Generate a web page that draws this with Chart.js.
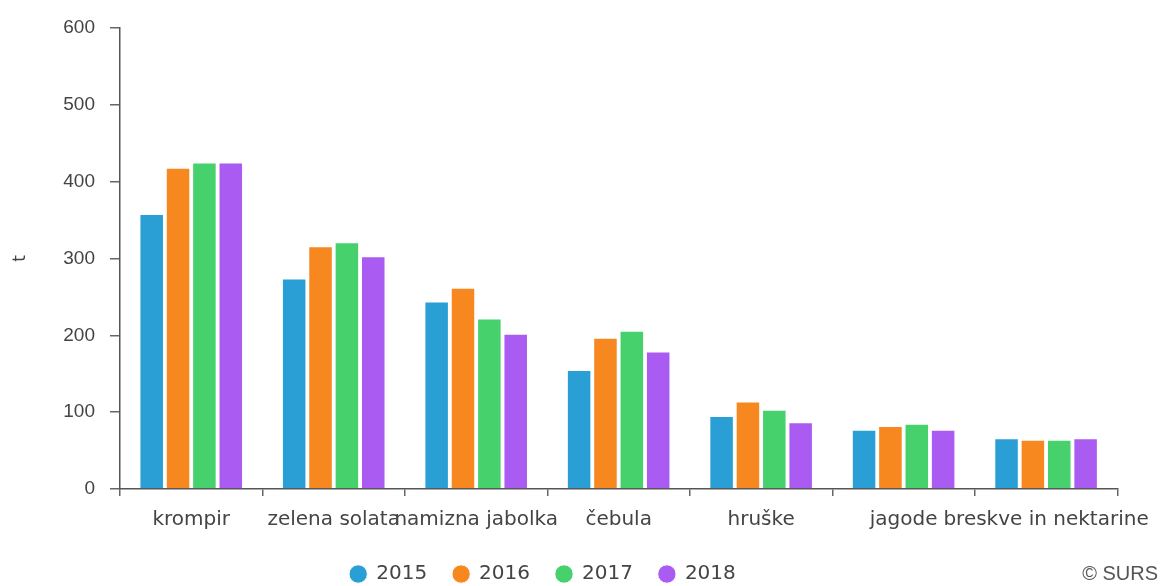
<!DOCTYPE html>
<html>
<head>
<meta charset="utf-8">
<script src="https://cdn.jsdelivr.net/npm/chart.js@4"></script>
<style>
  body { margin: 0; background: #fff; }
  #wrap { position: relative; width: 1164px; height: 586px; }
  #copy { position: absolute; right: 6px; top: 562px; font: 20px "Liberation Sans", sans-serif; color: #555; }
</style>
</head>
<body>
<div id="wrap">
  <canvas id="chart" width="1164" height="586"></canvas>
  <div id="copy">© SURS</div>
</div>
<script>
// Categories and values (t)
const categories = ['krompir', 'zelena solata', 'namizna jabolka', 'čebula', 'hruške', 'jagode', 'breskve in nektarine'];
const years = ['2015', '2016', '2017', '2018'];
const values2015 = [358, 274, 244, 155, 95, 77, 66];
const values2016 = [418, 316, 262, 197, 114, 82, 64];
const values2017 = [425, 321, 222, 206, 103, 85, 64];
const values2018 = [425, 303, 202, 179, 87, 77, 66];
const yTicks = [0, 100, 200, 300, 400, 500, 600];

const colors = ['#2a9fd6', '#f7871f', '#46d16c', '#aa5cf2'];
const series = [values2015, values2016, values2017, values2018];

const datasets = years.map((y, i) => ({
    label: y,
    data: series[i],
    backgroundColor: colors[i],
    borderColor: '#ffffff',
    borderWidth: 1,
    barPercentage: 0.93,
    categoryPercentage: 0.74
}));

// legend: wide gaps between items but a short box, sitting a bit left of centre
const moveLegend = {
    id: 'moveLegend',
    beforeLayout(chart) {
        const lg = chart.legend;
        if (lg && !lg._short) {
            const fit = lg.fit.bind(lg);
            lg.fit = function() { fit(); this.height = 30; };
            lg._short = true;
        }
    },
    afterLayout(chart) {
        const lg = chart.legend;
        lg.left -= 16;
        lg.right -= 16;
        lg.top -= 18;
        lg.height = 60;
        lg.bottom = lg.top + 60;
    }
};

new Chart(document.getElementById('chart'), {
    type: 'bar',
    data: { labels: categories, datasets: datasets },
    plugins: [moveLegend],
    options: {
        responsive: false,
        animation: false,
        layout: { padding: { top: 28, right: 46, bottom: 0, left: 0 } },
        plugins: {
            legend: {
                position: 'bottom',
                labels: {
                    usePointStyle: true,
                    pointStyle: 'circle',
                    boxWidth: 16,
                    boxHeight: 13,
                    padding: 26,
                    color: '#444',
                    font: { family: 'DejaVu Sans', size: 20 }
                }
            },
            tooltip: { enabled: false }
        },
        scales: {
            x: {
                grid: { display: true, offset: true, drawOnChartArea: false, tickLength: 7, color: '#666', lineWidth: 1.5 },
                border: { color: '#555', width: 1.5 },
                ticks: { color: '#444', font: { family: 'DejaVu Sans', size: 20 }, maxRotation: 0, autoSkip: false, padding: 12 },
                afterFit: function(scale) { scale.height = 67; }
            },
            y: {
                min: 0,
                max: 600,
                afterBuildTicks: function(scale) { scale.ticks = yTicks.map(v => ({ value: v })); },
                grid: { display: true, drawOnChartArea: false, tickLength: 10, color: '#666', lineWidth: 1.5 },
                border: { color: '#555', width: 1.5 },
                ticks: { color: '#444', font: { family: 'Liberation Sans', size: 19 }, padding: 15 },
                title: { display: true, text: 't', color: '#444', padding: 10, font: { family: 'DejaVu Sans', size: 17 } },
                afterFit: function(scale) { scale.width = 120; }
            }
        }
    }
});
</script>
</body>
</html>
